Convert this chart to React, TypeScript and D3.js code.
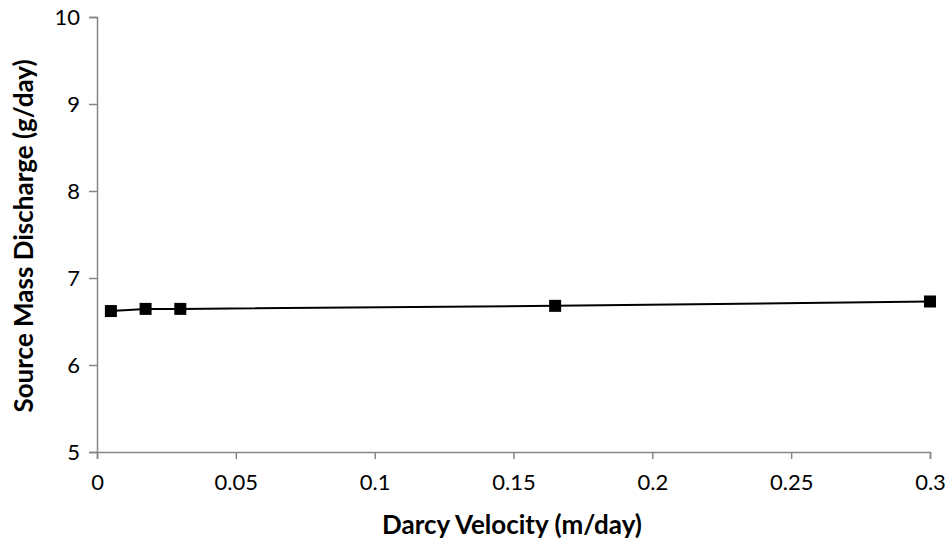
import { useEffect, useRef } from "react";
import * as d3 from "d3";

// Darcy velocity (m/day) vs source mass discharge (g/day)
const velocities = [0.005, 0.0175, 0.03, 0.165, 0.3];
const discharges = [6.62, 6.645, 6.645, 6.68, 6.73];
const xTicks = [0, 0.05, 0.1, 0.15, 0.2, 0.25, 0.3];
const yTicks = [5, 6, 7, 8, 9, 10];

const width = 950;
const height = 543;
const margin = { top: 17, right: 20, bottom: 91, left: 97 };
const font = "Lato, 'Open Sans', sans-serif";

const App = () => {
  const svgRef = useRef<SVGSVGElement | null>(null);

  useEffect(() => {
    const svg = d3.select(svgRef.current);
    svg.selectAll("*").remove();

    const x = d3.scaleLinear().domain([0, 0.3]).range([margin.left, 930]);
    const y = d3
      .scaleLinear()
      .domain([5, 10])
      .range([height - margin.bottom, margin.top]);

    const axisColor = "#868686";

    // x axis
    const xAxis = svg
      .append("g")
      .attr("transform", `translate(0,${y(5)})`)
      .call(
        d3
          .axisBottom(x)
          .tickValues(xTicks)
          .tickSize(7)
          .tickPadding(15)
          .tickFormat((d) => String(+d))
      );
    xAxis.select(".domain").attr("stroke", axisColor).attr("stroke-width", 1.5);
    xAxis.selectAll("line").attr("stroke", axisColor).attr("stroke-width", 1.5);
    xAxis
      .selectAll("text")
      .attr("fill", "#000")
      .style("font-family", font)
      .style("font-size", "22px");

    // y axis
    const yAxis = svg
      .append("g")
      .attr("transform", `translate(${x(0)},0)`)
      .call(
        d3
          .axisLeft(y)
          .tickValues(yTicks)
          .tickSize(8)
          .tickPadding(9)
          .tickFormat(d3.format("d"))
      );
    yAxis.select(".domain").attr("stroke", axisColor).attr("stroke-width", 1.5);
    yAxis.selectAll("line").attr("stroke", axisColor).attr("stroke-width", 1.5);
    yAxis
      .selectAll("text")
      .attr("fill", "#000")
      .style("font-family", font)
      .style("font-size", "22px");

    // axis titles
    svg
      .append("text")
      .attr("x", 512)
      .attr("y", 534)
      .attr("text-anchor", "middle")
      .style("font-family", font)
      .style("font-size", "26px")
      .style("font-weight", "bold")
      .text("Darcy Velocity (m/day)");

    svg
      .append("text")
      .attr("transform", `translate(33,236) rotate(-90)`)
      .attr("text-anchor", "middle")
      .style("font-family", font)
      .style("font-size", "26px")
      .style("font-weight", "bold")
      .text("Source Mass Discharge (g/day)");

    // data line
    const line = d3
      .line<number>()
      .x((_, i) => x(velocities[i]))
      .y((d) => y(d));

    svg
      .append("path")
      .attr("d", line(discharges) || "")
      .attr("fill", "none")
      .attr("stroke", "#000")
      .attr("stroke-width", 2);

    // square markers
    const size = 12;
    svg
      .selectAll("rect.marker")
      .data(discharges)
      .join("rect")
      .classed("marker", true)
      .attr("x", (_, i) => x(velocities[i]) - size / 2)
      .attr("y", (d) => y(d) - size / 2)
      .attr("width", size)
      .attr("height", size)
      .attr("fill", "#000");
  }, []);

  return (
    <div style={{ position: "absolute", left: 0, top: 0, background: "#fff" }}>
      <svg ref={svgRef} width={width} height={height} style={{ display: "block" }} />
    </div>
  );
};

export default App;
